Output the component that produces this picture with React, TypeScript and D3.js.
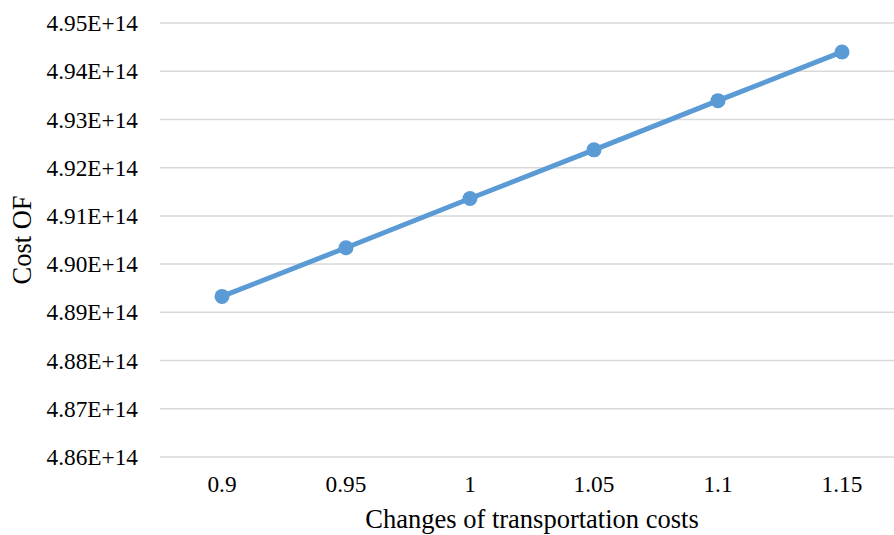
import React from "react";
import * as d3 from "d3";

const categories: string[] = ["0.9", "0.95", "1", "1.05", "1.1", "1.15"];
const costValues: number[] = [4.8933e14, 4.9034e14, 4.9136e14, 4.9237e14, 4.9339e14, 4.944e14];
const yTicks: number[] = [4.86e14, 4.87e14, 4.88e14, 4.89e14, 4.9e14, 4.91e14, 4.92e14, 4.93e14, 4.94e14, 4.95e14];
const xTitle = "Changes of transportation costs";
const yTitle = "Cost OF";

const W = 894;
const H = 535;
const plot = { left: 160, right: 904, top: 23, bottom: 457 };
const font = "'Liberation Serif', 'Times New Roman', serif";

function fmt(v: number): string {
  return (v / 1e14).toFixed(2) + "E+14";
}

export default function App() {
  const x = d3.scaleBand<string>().domain(categories).range([plot.left, plot.right]);
  const y = d3.scaleLinear().domain([4.86e14, 4.95e14]).range([plot.bottom, plot.top]);
  const line = d3
    .line<number>()
    .x((_, i) => (x(categories[i]) as number) + x.bandwidth() / 2)
    .y((d) => y(d));

  return (
    <svg width={W} height={H} style={{ position: "absolute", left: 0, top: 0, background: "#fff" }}>
      {yTicks.map((t) => (
        <g key={t}>
          <line x1={plot.left} x2={plot.right} y1={y(t)} y2={y(t)} stroke="#D9D9D9" strokeWidth={1.5} />
          <text x={138} y={y(t)} dy="0.35em" textAnchor="end" fontFamily={font} fontSize={23.3} fill="#000">
            {fmt(t)}
          </text>
        </g>
      ))}
      {categories.map((c) => (
        <text
          key={c}
          x={(x(c) as number) + x.bandwidth() / 2}
          y={492}
          textAnchor="middle"
          fontFamily={font}
          fontSize={23.3}
          fill="#000"
        >
          {c}
        </text>
      ))}
      <path d={line(costValues) || ""} fill="none" stroke="#5B9BD5" strokeWidth={5} strokeLinejoin="round" />
      {costValues.map((v, i) => (
        <circle
          key={i}
          cx={(x(categories[i]) as number) + x.bandwidth() / 2}
          cy={y(v)}
          r={7.5}
          fill="#5B9BD5"
        />
      ))}
      <text x={(plot.left + plot.right) / 2} y={528} textAnchor="middle" fontFamily={font} fontSize={26.5} fill="#000">
        {xTitle}
      </text>
      <text
        transform={`translate(31, ${(plot.top + plot.bottom) / 2}) rotate(-90)`}
        textAnchor="middle"
        fontFamily={font}
        fontSize={26.5}
        fill="#000"
      >
        {yTitle}
      </text>
    </svg>
  );
}
